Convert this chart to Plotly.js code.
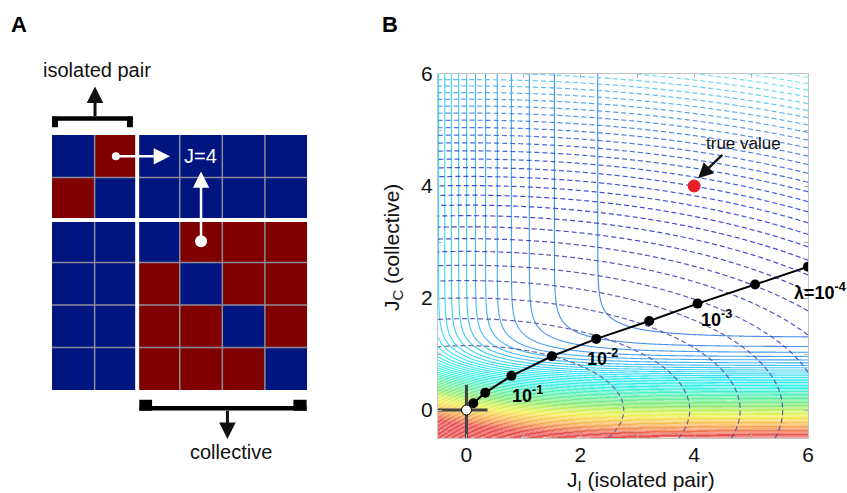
<!DOCTYPE html>
<html><head><meta charset="utf-8">
<script src="https://cdn.plot.ly/plotly-3.0.1.min.js"></script>
<style>html,body{margin:0;padding:0;background:#fff}#chart{width:847px;height:493px}</style>
</head><body><div id="chart"></div>
<script>
// ---------- Panel A : spin configuration ----------
const spinRows = [0, 1, 2, 3, 4, 5];
const spinCols = [0, 1, 2, 3, 4, 5];
// 1 = red (up), 0 = blue (down)
const spinGrid = [
  [0, 1, 0, 0, 0, 0],
  [1, 0, 0, 0, 0, 0],
  [0, 0, 0, 1, 1, 1],
  [0, 0, 1, 0, 1, 1],
  [0, 0, 1, 1, 0, 1],
  [0, 0, 1, 1, 1, 0]
];
const cellBorders = [0.5, 2.5, 3.5, 4.5];
const blockBorder = [1.5];
const dotCols = [1, 3];
const dotRows = [0, 2];
const couplingText = 'J=4';

// ---------- Panel B : inference landscape ----------
const axisTicks = [0, 1, 2, 3, 4, 5, 6];
const axisTickText = ['0', '', '2', '', '4', '', '6'];
const xTitle = 'J<sub>I</sub> (isolated pair)';
const yTitle = 'J<sub>C</sub> (collective)';
// regularisation path (J_I, J_C), from lambda large (origin) to lambda = 1e-4
const pathJI = [0, 0.12, 0.33, 0.79, 1.50, 2.28, 3.21, 4.06, 5.07, 6.00];
const pathJC = [0, 0.12, 0.31, 0.61, 0.96, 1.27, 1.59, 1.90, 2.24, 2.56];
const lambdaIndex = [3, 5, 7, 9];
const lambdaText = ['<b>10<sup>-1</sup></b>', '<b>10<sup>-2</sup></b>', '<b>10<sup>-3</sup></b>', '<b>λ=10<sup>-4</sup></b>'];
const trueJI = [4];
const trueJC = [4];
const crossH = [-0.5, 0.37];
const crossV = [-0.5, 0.45];
// contour landscapes
const isoTerm = [1.0, 1.0, -1.0];    // amplitude, steepness, shift (solid family, J_I part)
const colTerm = [0.36, 4.7, 0.821];  // amplitude, steepness, shift (solid family, J_C part)
const solidLevels = [0.036, 2.8, 0.0395];  // start, end, step
const quadWeights = [0.173, 1.0];    // dashed family weights on J_I^2, J_C^2
const dashedLevels = [1.32, 46, 1.34];

// grid
const gridX = [], gridY = [];
for (let i = 0; i <= 325; i++) { gridX.push(-0.5 + i * 0.02); gridY.push(-0.5 + i * 0.02); }
const sp = (p, t) => p[0] * Math.log(1 + Math.exp(-p[1] * (t - p[2])));
const zSolid = gridY.map(y => gridX.map(x => sp(isoTerm, x) + sp(colTerm, y)));
const zDashed = gridY.map(y => gridX.map(x => quadWeights[0] * x * x + quadWeights[1] * y * y));

const FONT = 'Liberation Sans, Arial, Helvetica, sans-serif';

const traces = [
  {type: 'heatmap', z: spinGrid, x: spinCols, y: spinRows, xaxis: 'x2', yaxis: 'y2',
   colorscale: [[0, '#001580'], [1, '#800000']], zmin: 0, zmax: 1, showscale: false, hoverinfo: 'skip'},
  {type: 'scatter', mode: 'markers', x: [dotCols[0]], y: [dotRows[0]], xaxis: 'x2', yaxis: 'y2',
   marker: {color: '#ffffff', size: 8}, hoverinfo: 'skip'},
  {type: 'scatter', mode: 'markers', x: [dotCols[1]], y: [dotRows[1]], xaxis: 'x2', yaxis: 'y2',
   marker: {color: '#ffffff', size: 12}, hoverinfo: 'skip'},
  {type: 'contour', x: gridX, y: gridY, z: zSolid, xaxis: 'x', yaxis: 'y',
   autocontour: false, contours: {start: solidLevels[0], end: solidLevels[1], size: solidLevels[2], coloring: 'lines', showlabels: false},
   zmin: 0, zmax: 2.2, showscale: false, hoverinfo: 'skip', opacity: 0.92,
   colorscale: [[0, '#3a80ea'], [0.08, '#38a6f2'], [0.15, '#2cccf2'], [0.22, '#22e6f2'], [0.35, '#28f0e0'],
                [0.47, '#50f0a0'], [0.59, '#80e860'], [0.66, '#c8f048'], [0.73, '#f4ee40'], [0.86, '#f8a844'], [1, '#e63a3a']],
   line: {width: 1.1, smoothing: 1}},
  {type: 'contour', x: gridX, y: gridY, z: zDashed, xaxis: 'x', yaxis: 'y',
   autocontour: false, contours: {start: dashedLevels[0], end: dashedLevels[1], size: dashedLevels[2], coloring: 'lines', showlabels: false},
   zmin: 0, zmax: 42, showscale: false, hoverinfo: 'skip', opacity: 0.9,
   colorscale: [[0, '#5a5a9e'], [0.12, '#4848b2'], [0.3, '#2e30d8'], [0.5, '#3050e8'], [0.7, '#4490f0'], [0.85, '#52c8f0'], [1, '#78eef0']],
   line: {width: 1.2, dash: '5px,3px', smoothing: 1}},
  {type: 'scatter', mode: 'lines', x: crossH, y: [0, 0], line: {color: '#444444', width: 3}, hoverinfo: 'skip'},
  {type: 'scatter', mode: 'lines', x: [0, 0], y: crossV, line: {color: '#444444', width: 3}, hoverinfo: 'skip'},
  {type: 'scatter', mode: 'lines+markers', x: pathJI, y: pathJC, line: {color: '#000000', width: 2},
   marker: {color: '#000000', size: 10}, hoverinfo: 'skip'},
  {type: 'scatter', mode: 'markers', x: [pathJI[0]], y: [pathJC[0]],
   marker: {color: '#ffffff', size: 10, line: {color: '#000000', width: 1}}, hoverinfo: 'skip'},
  {type: 'scatter', mode: 'markers', x: trueJI, y: trueJC, marker: {color: '#e8202a', size: 13}, hoverinfo: 'skip'}
];

// ---- shapes (panel A grid, brackets) ----
const shapes = [];
cellBorders.forEach(k => {
  shapes.push({type: 'line', xref: 'x2', yref: 'y2', x0: k, x1: k, y0: -0.5, y1: 5.5, line: {color: '#8c8c98', width: 1.5}});
  shapes.push({type: 'line', xref: 'x2', yref: 'y2', x0: -0.5, x1: 5.5, y0: k, y1: k, line: {color: '#8c8c98', width: 1.5}});
});
blockBorder.forEach(k => {
  shapes.push({type: 'line', xref: 'x2', yref: 'y2', x0: k, x1: k, y0: -0.5, y1: 5.5, line: {color: '#ffffff', width: 4}});
  shapes.push({type: 'line', xref: 'x2', yref: 'y2', x0: -0.5, x1: 5.5, y0: k, y1: k, line: {color: '#ffffff', width: 4}});
});
// top bracket (isolated pair)
shapes.push({type: 'line', xref: 'x2', yref: 'y2', x0: -0.5, x1: 1.40, y0: -0.89, y1: -0.89, line: {color: '#000', width: 4.5}});
shapes.push({type: 'rect', xref: 'x2', yref: 'y2', x0: -0.5, x1: -0.36, y0: -0.93, y1: -0.68, fillcolor: '#000', line: {width: 0}});
shapes.push({type: 'rect', xref: 'x2', yref: 'y2', x0: 1.26, x1: 1.40, y0: -0.93, y1: -0.68, fillcolor: '#000', line: {width: 0}});
// bottom bracket (collective)
shapes.push({type: 'line', xref: 'x2', yref: 'y2', x0: 1.55, x1: 5.48, y0: 5.93, y1: 5.93, line: {color: '#000', width: 4.5}});
shapes.push({type: 'rect', xref: 'x2', yref: 'y2', x0: 1.55, x1: 1.85, y0: 5.73, y1: 5.99, fillcolor: '#000', line: {width: 0}});
shapes.push({type: 'rect', xref: 'x2', yref: 'y2', x0: 5.17, x1: 5.48, y0: 5.73, y1: 5.99, fillcolor: '#000', line: {width: 0}});

// ---- annotations ----
const annotations = [
  {xref: 'paper', yref: 'paper', x: 19 / 847, y: 1 - 25 / 493, xanchor: 'center', yanchor: 'middle', text: '<b>A</b>', showarrow: false, font: {size: 22, color: '#000'}},
  {xref: 'paper', yref: 'paper', x: 390 / 847, y: 1 - 25 / 493, xanchor: 'center', yanchor: 'middle', text: '<b>B</b>', showarrow: false, font: {size: 22, color: '#000'}},
  {xref: 'paper', yref: 'paper', x: 641 / 847, y: 1 - 481 / 493, xanchor: 'center', yanchor: 'middle', text: xTitle, showarrow: false, font: {size: 21, color: '#111'}},
  {xref: 'paper', yref: 'paper', x: 393 / 847, y: 1 - 248 / 493, xanchor: 'center', yanchor: 'middle', text: yTitle, textangle: -90, showarrow: false, font: {size: 21, color: '#111'}},
  {xref: 'x2', yref: 'y2', x: 0.56, y: -2.03, xanchor: 'center', yanchor: 'middle', text: 'isolated pair', showarrow: false, font: {size: 20, color: '#111'}},
  {xref: 'x2', yref: 'y2', x: 3.71, y: 6.96, xanchor: 'center', yanchor: 'middle', text: 'collective', showarrow: false, font: {size: 20, color: '#111'}},
  {xref: 'x2', yref: 'y2', x: 0.51, y: -1.64, axref: 'x2', ayref: 'y2', ax: 0.51, ay: -0.9, text: '', showarrow: true,
   arrowhead: 2, arrowsize: 1.1, arrowwidth: 3, arrowcolor: '#111'},
  {xref: 'x2', yref: 'y2', x: 3.62, y: 6.65, axref: 'x2', ayref: 'y2', ax: 3.62, ay: 5.95, text: '', showarrow: true,
   arrowhead: 2, arrowsize: 1.1, arrowwidth: 3, arrowcolor: '#111'},
  {xref: 'x2', yref: 'y2', x: 2.27, y: 0, axref: 'x2', ayref: 'y2', ax: dotCols[0], ay: dotRows[0], text: '', showarrow: true,
   arrowhead: 2, arrowsize: 1.3, arrowwidth: 2.5, arrowcolor: '#fff'},
  {xref: 'x2', yref: 'y2', x: 3, y: 0.36, axref: 'x2', ayref: 'y2', ax: dotCols[1], ay: dotRows[1], text: '', showarrow: true,
   arrowhead: 2, arrowsize: 1.3, arrowwidth: 2.5, arrowcolor: '#fff'},
  {xref: 'x2', yref: 'y2', x: 2.99, y: 0.0, xanchor: 'center', yanchor: 'middle', text: couplingText, showarrow: false, font: {size: 20, color: '#fff'}},
  {xref: 'x', yref: 'y', x: 4.87, y: 4.76, xanchor: 'center', yanchor: 'middle', text: 'true value', showarrow: false, font: {size: 17, color: '#111'}},
  {xref: 'x', yref: 'y', x: trueJI[0] + 0.07, y: trueJC[0] + 0.14, axref: 'x', ayref: 'y', ax: 4.52, ay: 4.58, text: '', showarrow: true,
   arrowhead: 2, arrowsize: 1.2, arrowwidth: 2.5, arrowcolor: '#111'}
];
const lblShift = [[-1, -5], [-11, -5], [1, -1], [-16, -11]];
lambdaIndex.forEach((idx, k) => {
  annotations.push({xref: 'x', yref: 'y', x: pathJI[idx], y: pathJC[idx], text: lambdaText[k], showarrow: false,
    xanchor: 'left', yanchor: 'top', xshift: lblShift[k][0], yshift: lblShift[k][1], font: {size: 18, color: '#000'}});
});

const axB = {
  range: [-0.5, 6], tickvals: axisTicks, ticktext: axisTickText, ticks: 'inside', ticklen: 4, tickcolor: '#b4b4b4',
  showline: true, linecolor: '#c4c4c4', linewidth: 1, mirror: 'ticks', showgrid: false, zeroline: false,
  tickfont: {size: 21, color: '#111'}, fixedrange: true
};

const layout = {
  width: 847, height: 493, margin: {l: 0, r: 0, t: 0, b: 0},
  paper_bgcolor: '#fff', plot_bgcolor: '#fff', showlegend: false,
  font: {family: FONT, color: '#111'},
  xaxis: Object.assign({}, axB, {domain: [438 / 847, 808 / 847], anchor: 'y', ticklabelstandoff: -2}),
  yaxis: Object.assign({}, axB, {domain: [1 - 438 / 493, 1 - 74 / 493], anchor: 'x'}),
  xaxis2: {domain: [30.75 / 847, 328.75 / 847], range: [-1, 6], visible: false, anchor: 'y2', fixedrange: true},
  yaxis2: {domain: [1 - 475 / 493, 1 - 50 / 493], range: [7.5, -2.5], visible: false, anchor: 'x2', fixedrange: true},
  shapes: shapes, annotations: annotations
};

Plotly.newPlot('chart', traces, layout, {staticPlot: true, displayModeBar: false});
</script></body></html>
